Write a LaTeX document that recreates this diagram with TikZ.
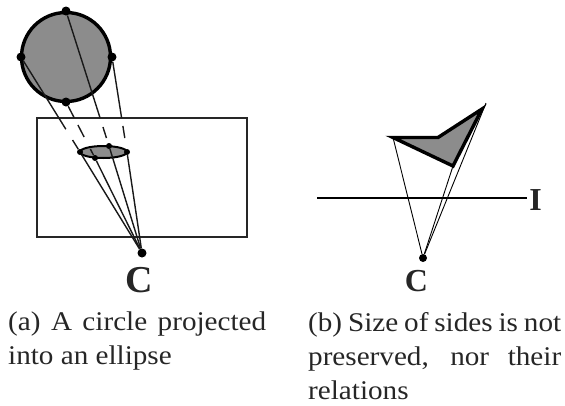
\documentclass[tikz,border=0pt]{standalone}
\usepackage{fontspec}
\setmainfont{Liberation Serif}
\newfontfamily\capfont[FakeStretch=1.08]{Liberation Serif}
\usetikzlibrary{calc}
\definecolor{shade}{gray}{0.55}
\begin{document}
\begin{tikzpicture}[
  x=1pt, y=-1pt,
  ray/.style={line width=1.4pt, black!90},
  thinray/.style={line width=0.9pt},
  outline/.style={line width=3.4pt, fill=shade},
  bigdot/.style={circle, fill, inner sep=0pt, minimum size=9pt},
  smalldot/.style={circle, fill, inner sep=0pt, minimum size=6pt},
  letter/.style={font=\bfseries\fontsize{#1}{#1}\selectfont, inner sep=0pt, text=black!85},
  caption/.style={font=\capfont\fontsize{27}{34}\selectfont, inner sep=0pt, anchor=north west, align=left, text=black!85}
]
  \useasboundingbox (0,0) rectangle (565,405);
  % (a) image plane
  \draw[line width=1.4pt, black!85] (37,118) rectangle (247,237);
  % circle and ellipse
  \draw[outline] (66,57) circle (44.5);
  \draw[line width=2pt, fill=shade] (103.5,152) ellipse (23.5 and 6);
  % points on them
  \node[bigdot] (ctop) at (66,11) {};
  \node[bigdot] (cleft) at (21,57) {};
  \node[bigdot] (cright) at (112,57) {};
  \node[bigdot] (cbot) at (66,102) {};
  \node[smalldot] (etop) at (109,146) {};
  \node[smalldot] (eleft) at (80,152) {};
  \node[smalldot] (eright) at (127,152) {};
  \node[smalldot] (ebot) at (95,158) {};
  \node[bigdot] (eye) at (142,253) {};
  % rays from the circle, broken where they near the ellipse
  \draw[ray] (cleft) -- ($(cleft)!0.76!(eleft)$);
  \draw[ray] ($(cleft)!0.874!(eleft)$) -- (eleft);
  \draw[ray] (cbot) -- ($(cbot)!0.286!(ebot)$);
  \draw[ray] ($(cbot)!0.41!(ebot)$) -- ($(cbot)!0.625!(ebot)$);
  \draw[ray] ($(cbot)!0.84!(ebot)$) -- (ebot);
  \draw[ray] (ctop) -- ($(ctop)!0.793!(etop)$);
  \draw[ray] ($(ctop)!0.859!(etop)$) -- ($(ctop)!0.941!(etop)$);
  \draw[ray] (cright) -- ($(cright)!0.642!(eright)$);
  \draw[ray] ($(cright)!0.726!(eright)$) -- ($(cright)!0.853!(eright)$);
  % rays into the centre
  \draw[ray] (eleft) -- (eye);
  \draw[ray] (ebot) -- (eye);
  \draw[ray] (etop) -- (eye);
  \draw[ray] (eright) -- (eye);
  \node[letter=38] (clabel) at (139,280) {C};
  % (b) image line
  \draw[line width=2pt] (317,198) -- (527,198);
  \node[letter=32] (ilabel) at (535.5,200.5) {I};
  % the quadrilateral
  \coordinate (qleft) at (393,137.5);
  \coordinate (qmid) at (438,137.5);
  \coordinate (qtip) at (482,109);
  \coordinate (qlow) at (453,166);
  \coordinate (qfar) at (486,103);
  \draw[outline] (qleft) -- (qmid) -- (qtip) -- (qlow) -- cycle;
  \node[circle, fill, inner sep=0pt, minimum size=8pt] (eyeb) at (423,258) {};
  \draw[thinray] (eyeb) -- (qleft);
  \draw[thinray] (eyeb) -- (qlow);
  \draw[thinray] (eyeb) -- (qfar);
  \node[letter=32] (cblabel) at (416.5,281) {C};
  % captions
  \node[caption] (capa) at (8,312) {\makebox[258pt][s]{(a) A circle projected}\\into an ellipse};
  \node[caption] (capb) at (308,312) {\makebox[253pt][s]{(b) Size of sides is not}\\\makebox[253pt][s]{preserved, nor their}\\relations};
\end{tikzpicture}
\end{document}
